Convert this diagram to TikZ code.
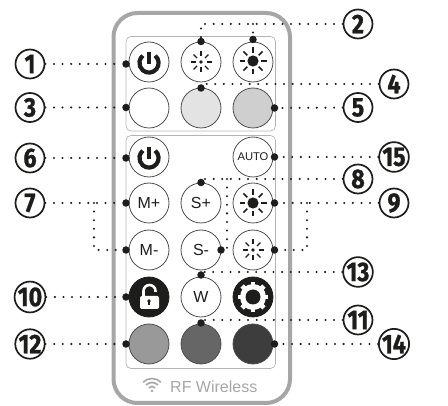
\documentclass[tikz,border=0pt]{standalone}
\usepackage{graphicx}
\usepackage{fontspec}
\setmainfont{Liberation Sans}
\newfontfamily\numfont[FakeBold=1]{Fira Sans}
\newcommand{\numtext}[1]{\scalebox{.86}[1]{\numfont\bfseries #1}}
\definecolor{bodygray}{HTML}{A6A6A6}
\definecolor{panelgray}{HTML}{B4B4B4}
\definecolor{rimgray}{HTML}{4D4D4D}
\definecolor{inkblack}{HTML}{1D1D1B}
\tikzset{
    btn/.style={circle, draw=rimgray, line width=0.8pt, minimum size=40pt, inner sep=0pt, font=\fontsize{16}{16}\selectfont, text=inkblack},
    numlabel/.style={circle, draw=inkblack, line width=1.7pt, minimum size=29pt, inner sep=0pt, text=inkblack, font=\fontsize{27}{27}\selectfont},
    pin/.style={circle, fill=inkblack, minimum size=7.5pt, inner sep=0pt},
    lead/.style={draw=inkblack, line width=2.3pt, line cap=round, dash pattern=on 0pt off 8.6pt},
    powericon/.pic={
        \draw[inkblack, line width=4.2pt] (-50:9.6) arc (-50:230:9.6);
        \draw[inkblack, line width=4.2pt] (0,-11) -- (0,1);
    },
    sunsmall/.pic={
        \fill[inkblack] (0,0) circle (1.8);
        \foreach \a in {0,45,...,315}
            \draw[inkblack, line width=1.1pt] (\a:5.5) -- (\a:10.5);
    },
    sunbig/.pic={
        \fill[inkblack] (0,0) circle (5.6);
        \foreach \a in {0,45,...,315}
            \draw[inkblack, line width=1.7pt] (\a:8) -- (\a:13.5);
    },
}
\begin{document}
\begin{tikzpicture}[x=1pt, y=-1pt]

    \useasboundingbox (0,0) rectangle (448,406);

    % Draw the remote body and the two key panels
    \draw[bodygray, line width=4pt, rounded corners=24pt] (113.5,13) rectangle (290,403);
    \draw[panelgray, line width=0.7pt, rounded corners=5pt] (126,36.5) rectangle (275.5,131);
    \draw[panelgray, line width=0.7pt, rounded corners=5pt] (126,135.5) rectangle (275.5,368.5);

    % Top panel keys
    \node[btn] (on) at (149,62) {};
    \node[btn] (dim) at (201,62) {};
    \node[btn] (bright) at (253,62) {};
    \node[btn] (white) at (149,108) {};
    \node[btn, fill=black!11] (light) at (201,108) {};
    \node[btn, fill=black!19] (silver) at (253,108) {};

    % Lower panel keys
    \node[btn] (power) at (149,157) {};
    \node[btn, font=\fontsize{11.2}{11.2}\selectfont] (auto) at (253,157) {AUTO};
    \node[btn] (mplus) at (149,203) {M+};
    \node[btn] (splus) at (201,203) {S+};
    \node[btn] (brightb) at (253,203) {};
    \node[btn] (mminus) at (149,250) {M-};
    \node[btn] (sminus) at (201,250) {S-};
    \node[btn] (dimb) at (253,250) {};
    \node[btn, fill=inkblack, draw=inkblack] (lock) at (149,297) {};
    \node[btn] (wkey) at (201,297) {W};
    \node[btn, fill=inkblack, draw=inkblack] (gear) at (253,297) {};
    \node[btn, fill=black!40] (gray) at (149,344) {};
    \node[btn, fill=black!60] (dark) at (201,344) {};
    \node[btn, fill=black!76] (darker) at (253,344) {};

    % Icons on the keys
    \pic at (149,63) {powericon};
    \pic at (149,158) {powericon};
    \pic at (201,62) {sunsmall};
    \pic at (253,61) {sunbig};
    \pic at (253,203) {sunbig};
    \pic at (253,250) {sunsmall};

    % Open padlock
    \draw[white, line width=2.6pt] (143.5,297) -- (143.5,291) arc (180:360:6) -- (155.5,292);
    \fill[white, rounded corners=2pt] (140,296) rectangle (159,309);
    \fill[inkblack] (149,301) circle (1.9);
    \draw[inkblack, line width=1.2pt] (149,301) -- (149,305.5);

    % Gear
    \fill[white] (253,297) circle (13);
    \foreach \a in {0,45,...,315}
        \draw[white, line width=4.6pt] (253,297) ++(\a:10) -- ++(\a:5.4);
    \fill[inkblack] (253,297) circle (7.5);

    % Brand line at the bottom
    \foreach \r in {4.5,8.5,12.5}
        \draw[bodygray, line width=1.6pt] (152,391) ++(-135:\r) arc (-135:-45:\r);
    \fill[bodygray] (152,391) circle (1.4);
    \node[bodygray, anchor=base west, font=\fontsize{16}{16}\selectfont, inner sep=0pt] (brand) at (170,393) {RF Wireless};

    % Pins on the keys
    \node[pin] (p1) at (126,64) {};
    \node[pin] (p2a) at (201,41.5) {};
    \node[pin] (p2b) at (253,39.5) {};
    \node[pin] (p3) at (126,107.5) {};
    \node[pin] (p4) at (201,88) {};
    \node[pin] (p5) at (274.5,108) {};
    \node[pin] (p6) at (126,158) {};
    \node[pin] (p15) at (274.5,157) {};
    \node[pin] (p7a) at (126,203) {};
    \node[pin] (p7b) at (126,250) {};
    \node[pin] (p8a) at (201,182.5) {};
    \node[pin] (p8b) at (221,250) {};
    \node[pin] (p9a) at (274.5,203) {};
    \node[pin] (p9b) at (274.5,250) {};
    \node[pin] (p13) at (201,275) {};
    \node[pin] (p10) at (126,297) {};
    \node[pin] (p11) at (201,323) {};
    \node[pin] (p12) at (126,344) {};
    \node[pin] (p14) at (274.5,344) {};

    % Numbers around the remote
    \node[numlabel] (n1) at (30,64) {\numtext{1}};
    \node[numlabel] (n2) at (358,24) {\numtext{2}};
    \node[numlabel] (n3) at (30,107.5) {\numtext{3}};
    \node[numlabel] (n4) at (394,84) {\numtext{4}};
    \node[numlabel] (n5) at (358,107.5) {\numtext{5}};
    \node[numlabel] (n6) at (30,158) {\numtext{6}};
    \node[numlabel] (n7) at (30,203) {\numtext{7}};
    \node[numlabel] (n8) at (358,179) {\numtext{8}};
    \node[numlabel] (n9) at (394,203) {\numtext{9}};
    \node[numlabel] (n10) at (30,297) {\numtext{10}};
    \node[numlabel] (n11) at (358,320) {\numtext{11}};
    \node[numlabel] (n12) at (30,344) {\numtext{12}};
    \node[numlabel] (n13) at (358,272) {\numtext{13}};
    \node[numlabel] (n14) at (394,344) {\numtext{14}};
    \node[numlabel] (n15) at (394,157) {\numtext{15}};

    % Corner points of the bent leaders
    \coordinate (c2a) at (201,24);
    \coordinate (c2b) at (253,24);
    \coordinate (c4) at (201,84);
    \coordinate (c7a) at (94,203);
    \coordinate (c7b) at (94,250);
    \coordinate (c8a) at (201,179);
    \coordinate (c8b) at (227,179);
    \coordinate (c8c) at (227,250);
    \coordinate (c9a) at (307,203);
    \coordinate (c9b) at (307,250);
    \coordinate (c13) at (201,272);
    \coordinate (c11) at (201,320);

    % Draw the dotted leaders
    \draw[lead] (n1) -- (p1);
    \draw[lead] (n3) -- (p3);
    \draw[lead] (n5) -- (p5);
    \draw[lead] (n6) -- (p6);
    \draw[lead] (n10) -- (p10);
    \draw[lead] (n12) -- (p12);
    \draw[lead] (n14) -- (p14);
    \draw[lead] (n15) -- (p15);
    \draw[lead] (n2) -- (c2a) -- (p2a);
    \draw[lead] (c2b) -- (p2b);
    \draw[lead] (n4) -- (c4) -- (p4);
    \draw[lead] (n7) -- (p7a);
    \draw[lead] (c7a) -- (c7b) -- (p7b);
    \draw[lead] (n8) -- (c8a) -- (p8a);
    \draw[lead] (c8b) -- (c8c) -- (p8b);
    \draw[lead] (n9) -- (p9a);
    \draw[lead] (c9a) -- (c9b) -- (p9b);
    \draw[lead] (n13) -- (c13) -- (p13);
    \draw[lead] (n11) -- (c11) -- (p11);

\end{tikzpicture}
\end{document}
